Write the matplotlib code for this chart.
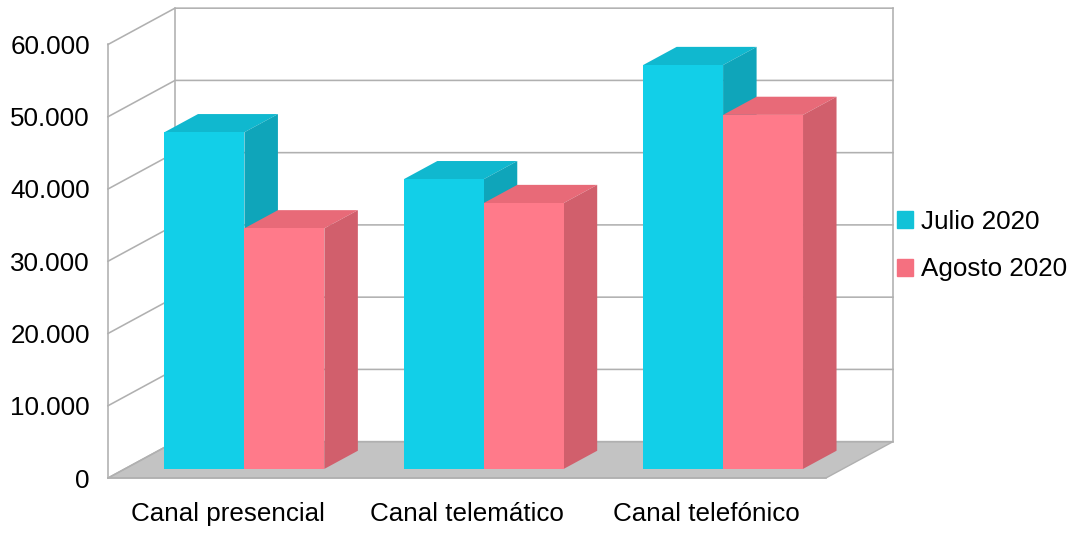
import matplotlib
matplotlib.use("Agg")
import matplotlib.pyplot as plt
from matplotlib.patches import Patch

categories = ["Canal presencial", "Canal telemático", "Canal telefónico"]
julio = [46600, 40100, 55900]
agosto = [33300, 36800, 49000]
y_ticks = [0, 10000, 20000, 30000, 40000, 50000, 60000]
y_labels = ["0", "10.000", "20.000", "30.000", "40.000", "50.000", "60.000"]
series_names = ["Julio 2020", "Agosto 2020"]

plt.rcParams["font.family"] = ["Liberation Sans", "DejaVu Sans"]

# profundidad de la caja 3D, en unidades de datos
DEPTH_X = 0.28
DEPTH_Y = 5030
BAR_W = 0.334
GRID = "#b0b0b0"


def project(x, y, d):
    # d = 0 frente, d = 1 pared del fondo
    return x + d * DEPTH_X, y + d * DEPTH_Y


def face(ax, pts, color, **kw):
    xs = [project(*p)[0] for p in pts]
    ys = [project(*p)[1] for p in pts]
    ax.fill(xs, ys, color=color, clip_on=False, **kw)


def bar3d(ax, x, value, colors):
    d0, d1 = 0.25, 0.75
    front, top, side = colors
    x1 = x + BAR_W
    face(ax, [(x, value, d0), (x1, value, d0), (x1, value, d1), (x, value, d1)], top, lw=0, zorder=3)
    face(ax, [(x1, 0, d0), (x1, 0, d1), (x1, value, d1), (x1, value, d0)], side, lw=0, zorder=3)
    face(ax, [(x, 0, d0), (x1, 0, d0), (x1, value, d0), (x, value, d0)], front, lw=0, zorder=3)


fig = plt.figure(figsize=(10.83, 5.34), dpi=100)
ax = fig.add_axes([108 / 1083, (534 - 478) / 534, 718 / 1083, 433.5 / 534])
ax.set_xlim(0, 3)
ax.set_ylim(0, 60000)
for s in ax.spines.values():
    s.set_visible(False)

# suelo
face(ax, [(0, 0, 0), (3, 0, 0), (3, 0, 1), (0, 0, 1)], "#c3c3c3", ec=GRID, lw=1, zorder=1)

# rejilla: pared izquierda y pared del fondo
for t in y_ticks:
    x0, y0 = project(0, t, 0)
    x1, y1 = project(0, t, 1)
    x2, y2 = project(3, t, 1)
    ax.plot([x0, x1, x2], [y0, y1, y2], color=GRID, lw=1.15, clip_on=False, zorder=2)
for xv in (0, 3):
    x1, y1 = project(xv, 0, 1)
    x2, y2 = project(xv, 60000, 1)
    ax.plot([x1, x2], [y1, y2], color=GRID, lw=1.15, clip_on=False, zorder=2)
ax.plot([0, 0], [0, 60000], color=GRID, lw=1.15, clip_on=False, zorder=2)
ax.plot([0, 3], [0, 0], color=GRID, lw=1.15, clip_on=False, zorder=2)

for i in range(len(categories)):
    left = i + 0.5 - BAR_W
    bar3d(ax, left, julio[i], ("#12cfe8", "#10b8cf", "#0fa5ba"))
    bar3d(ax, left + BAR_W, agosto[i], ("#ff7a8a", "#e86a78", "#d15f6c"))

ax.set_yticks(y_ticks)
ax.set_yticklabels(y_labels, fontsize=18.7)
ax.set_xticks([i + 0.5 for i in range(len(categories))])
ax.set_xticklabels(categories, fontsize=18.7)
ax.tick_params(axis="y", length=0, pad=13)
ax.tick_params(axis="x", length=0, pad=17)

handles = [Patch(color="#12c2d8"), Patch(color="#f57080")]
fig.legend(handles, series_names, loc="upper left", bbox_to_anchor=(897 / 1083, 1 - 210 / 534),
           frameon=False, fontsize=18.7, borderpad=0, borderaxespad=0, handlelength=0.62,
           handleheight=0.62, handletextpad=0.3, labelspacing=0.9)

fig.savefig("out.png", dpi=100)
